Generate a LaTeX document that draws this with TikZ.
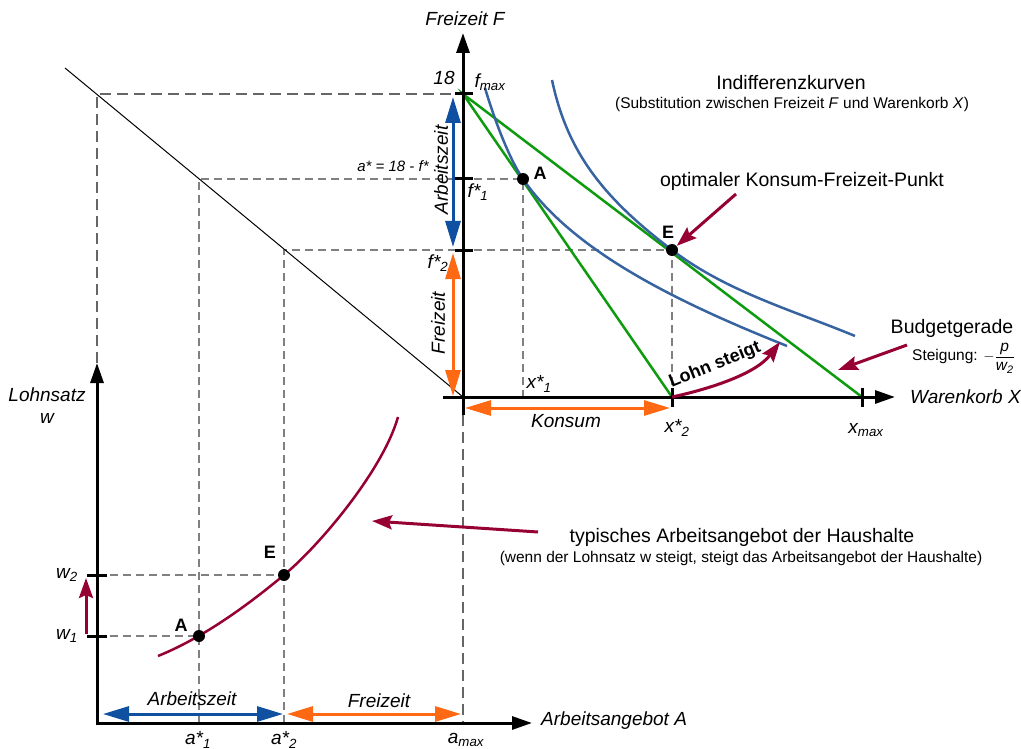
\documentclass[tikz,border=0pt]{standalone}
\usepackage{fontspec}
\setmainfont{Liberation Sans}
\usepackage{amsmath}
\usepackage{tikz}
\usetikzlibrary{arrows.meta}
\definecolor{grn}{RGB}{15,155,15}
\definecolor{blu}{RGB}{55,100,160}
\definecolor{darkblu}{RGB}{15,80,160}
\definecolor{org}{RGB}{255,105,20}
\definecolor{wine}{RGB}{150,0,50}
\tikzstyle{dsh}=[black!50,line width=1.3pt,dash pattern=on 8pt off 5pt]
\tikzstyle{dshb}=[black!60,line width=2.5pt,dash pattern=on 11pt off 6pt]
\tikzstyle{ax}=[line width=3pt,-{Triangle[length=20pt,width=13pt]}]
\tikzstyle{tk}=[line width=3pt]
\tikzstyle{dbl}=[line width=3pt,{Triangle[length=26pt,width=15pt]}-{Triangle[length=26pt,width=15pt]}]
\tikzstyle{rarr}=[wine,line width=3pt,-{Stealth[length=20pt,width=14pt,inset=3pt]}]
\tikzstyle{pt}=[circle,fill=black,inner sep=0pt,minimum size=12pt]
\tikzstyle{lbl}=[font=\fontsize{19}{22}\selectfont\itshape,inner sep=0pt]
\tikzstyle{txt}=[font=\fontsize{19.5}{22}\selectfont,inner sep=0pt]
\tikzstyle{sml}=[font=\fontsize{15.5}{18}\selectfont,inner sep=0pt]
\tikzstyle{bld}=[font=\fontsize{18}{20}\selectfont\bfseries,inner sep=0pt]

\begin{document}
\begin{tikzpicture}[x=1pt,y=-1pt]
\useasboundingbox (0,0) rectangle (1021,749);

%points
\coordinate (O) at (463,397);
\coordinate (F18) at (463,94);
\coordinate (X2) at (672,397);
\coordinate (Xm) at (862,397);
\coordinate (pA) at (523,179);
\coordinate (pE) at (672,250);
\coordinate (qA) at (199,636);
\coordinate (qE) at (284,575);

%dashed help lines
\draw[dshb] (97,363) -- (97,94) -- (F18);
\draw[dshb] (463,415) -- (463,723);
\draw[dsh] (199,723) -- (199,179) -- (pA) -- (523,397);
\draw[dsh] (284,723) -- (284,250) -- (pE) -- (X2);
\draw[dsh] (97,575) -- (qE);
\draw[dsh] (97,636) -- (qA);

%45 degree line
\draw[line width=1pt] (65,68) -- (O);

%budget lines
\draw[grn,line width=2.5pt] (X2) -- (F18) -- (Xm);

%indifference curves
\draw[blu,line width=2.5pt] (485,88) .. controls (493,115) and (508,157) .. (pA)
  .. controls (573,251.5) and (677,302) .. (787,346);
\draw[blu,line width=2.5pt] (552,80) .. controls (567,151) and (602,197) .. (pE)
  .. controls (727,292) and (795,311) .. (855,336);

%labour supply
\draw[wine,line width=2.5pt] (158,656) .. controls (190,643) and (230,620) .. (qE)
  .. controls (320,545) and (383,470) .. (398,417);

%axes
\draw[ax] (463,415) -- (463,33);
\draw[ax] (443,397) -- (895,397);
\draw[line width=3pt,{Triangle[length=20pt,width=13pt]}-{Triangle[length=20pt,width=13pt]}] (97,363) -- (97,723) -- (532,723);
\foreach \y in {94,179,250} {
\draw[tk] (455,\y) -- (473,\y);
}
\foreach \x in {672,862} {
\draw[tk] (\x,388) -- (\x,407);
}
\foreach \y in {575,636} {
\draw[tk] (87,\y) -- (107,\y);
}

%time arrows
\draw[dbl,darkblu] (453,97) -- (453,247);
\draw[dbl,org] (453,253) -- (453,396);
\draw[dbl,org] (465,408) -- (670,408);
\draw[dbl,darkblu] (103,714) -- (283,714);
\draw[dbl,org] (287,714) -- (461,714);

%dots
\node[pt] (A1) at (pA) {};
\node[pt] (E1) at (pE) {};
\node[pt] (A2) at (qA) {};
\node[pt] (E2) at (qE) {};
\node[bld] (lA1) at (540,173) {A};
\node[bld] (lE1) at (668,232) {E};
\node[bld] (lA2) at (181,625) {A};
\node[bld] (lE2) at (270,552) {E};

%axis labels
\node[lbl] (fF) at (465,19) {Freizeit F};
\node[lbl,anchor=west] (wX) at (910,397) {Warenkorb X};
\node[lbl,anchor=west] (aA) at (541,721) {Arbeitsangebot A};
\node[lbl,align=center] (lw) at (47,406) {Lohnsatz\\w};
\node[lbl] (l18) at (444,78) {18};
\node[lbl] (fmax) at (490,82) {f\textsubscript{max}};
\node[lbl] (f1) at (478,192) {f*\textsubscript{1}};
\node[lbl] (f2) at (438,263) {f*\textsubscript{2}};
\node[lbl] (x1) at (539,384) {x*\textsubscript{1}};
\node[lbl] (x2) at (677,428) {x*\textsubscript{2}};
\node[lbl] (xm) at (866,430) {x\textsubscript{max}};
\node[lbl] (a1) at (198,740) {a*\textsubscript{1}};
\node[lbl] (a2) at (284,740) {a*\textsubscript{2}};
\node[lbl] (am) at (466,740) {a\textsubscript{max}};
\node[lbl] (w1) at (67,636) {w\textsubscript{1}};
\node[lbl] (w2) at (67,575) {w\textsubscript{2}};
\node[font=\fontsize{15}{17}\selectfont\itshape,inner sep=0pt] (aeq) at (393,166) {a* = 18 - f*};

%arrow labels
\node[lbl,rotate=90] (arbU) at (441,170) {Arbeitszeit};
\node[lbl,rotate=90] (frU) at (438,323) {Freizeit};
\node[lbl] (kons) at (566,421) {Konsum};
\node[lbl] (arbL) at (192,699) {Arbeitszeit};
\node[lbl] (frL) at (379,701) {Freizeit};

%notes
\node[txt] (ind) at (791,83) {Indifferenzkurven};
\node[sml] (ind2) at (792,104) {(Substitution zwischen Freizeit \textit{F} und Warenkorb \textit{X})};
\node[txt] (opt) at (802,181) {optimaler Konsum-Freizeit-Punkt};
\node[txt] (bud) at (952,328) {Budgetgerade};
\node[sml,anchor=west] (stg) at (912,358) {Steigung: $-\dfrac{\mbox{\itshape p}}{\mbox{\itshape w\textsubscript{2}}}$};
\node[txt] (typ) at (742,537) {typisches Arbeitsangebot der Haushalte};
\node[sml] (typ2) at (741,558) {(wenn der Lohnsatz w steigt, steigt das Arbeitsangebot der Haushalte)};

%red arrows
\coordinate (optT) at (736,194);
\coordinate (budT) at (907,345);
\coordinate (budH) at (838,370);
\coordinate (typT) at (538,532);
\coordinate (typH) at (372,521);
\coordinate (lsH) at (780,342);
\draw[rarr] (optT) -- (E1);
\draw[rarr] (budT) -- (budH);
\draw[rarr] (typT) -- (typH);
\draw[rarr] (86,634) -- (86,578);
\draw[rarr] (X2) .. controls (705,390) and (755,375) .. (lsH);
\node[bld,rotate=22] (ls) at (715,365) {Lohn steigt};

\end{tikzpicture}
\end{document}
